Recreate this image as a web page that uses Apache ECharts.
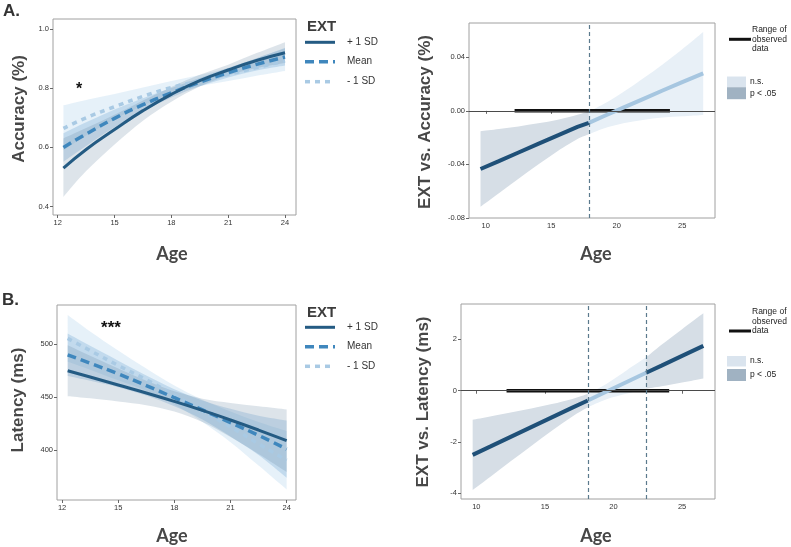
<!DOCTYPE html>
<html>
<head>
<meta charset="utf-8">
<script src="https://cdn.jsdelivr.net/npm/echarts@6/dist/echarts.min.js"></script>
<style>html,body{margin:0;padding:0;background:#fff}#c{width:791px;height:547px}</style>
</head>
<body>
<div id="c"></div>
<script>
// ---------- data ----------
const ageL = [12.3, 13.5, 15, 16.5, 18, 19.5, 21, 22.5, 24];
// Panel A (left): Accuracy by EXT level
const accPlus     = [0.530, 0.593, 0.660, 0.724, 0.779, 0.825, 0.861, 0.893, 0.919];
const accPlusLo   = [0.433, 0.520, 0.610, 0.690, 0.754, 0.805, 0.843, 0.868, 0.885];
const accPlusHi   = [0.630, 0.665, 0.710, 0.758, 0.804, 0.845, 0.879, 0.918, 0.955];
const accMean     = [0.600, 0.645, 0.698, 0.744, 0.784, 0.820, 0.852, 0.880, 0.905];
const accMeanLo   = [0.552, 0.605, 0.668, 0.722, 0.768, 0.806, 0.836, 0.859, 0.876];
const accMeanHi   = [0.648, 0.685, 0.728, 0.766, 0.800, 0.834, 0.868, 0.901, 0.934];
const accMinus    = [0.664, 0.700, 0.737, 0.772, 0.802, 0.825, 0.846, 0.869, 0.892];
const accMinusLo  = [0.590, 0.640, 0.695, 0.742, 0.780, 0.806, 0.824, 0.842, 0.858];
const accMinusHi  = [0.742, 0.760, 0.780, 0.802, 0.824, 0.844, 0.868, 0.900, 0.936];
// Panel B (left): Latency by EXT level
const latPlus     = [475, 469, 461.5, 454, 446, 437.5, 428.5, 419, 409];
const latPlusLo   = [451, 449, 446, 442.5, 436.5, 426.5, 412.5, 396.5, 379.5];
const latPlusHi   = [499, 489, 477, 465.5, 455.5, 448.5, 444.5, 441.5, 438.5];
const latMean     = [490, 482, 472, 461, 449.5, 438, 426, 414, 401];
const latMeanLo   = [470, 465.5, 459.5, 451.5, 441.5, 429, 413, 395.5, 374];
const latMeanHi   = [510, 498.5, 484.5, 470.5, 457.5, 447, 439, 432.5, 428];
const latMinus    = [505.5, 494, 480, 466.5, 452, 437, 422, 406, 390.5];
const latMinusLo  = [483.5, 476, 466, 456, 443, 426.5, 407.5, 385.5, 363];
const latMinusHi  = [527.5, 512, 494, 477, 461, 447.5, 436.5, 426.5, 418];
// Panel A (right): simple slope of EXT on accuracy by age
const ageSlopeA   = [9.6, 11, 12.5, 14, 15.5, 17, 17.87, 19, 20.5, 22, 23.5, 25, 26.6];
const slopeAcc    = [-0.0434, -0.0375, -0.0311, -0.0247, -0.0183, -0.0120, -0.0090, -0.0040, 0.0024, 0.0088, 0.0152, 0.0215, 0.0280];
const slopeAccLo  = [-0.0716, -0.0615, -0.0506, -0.0401, -0.0300, -0.0211, -0.0175, -0.0131, -0.0093, -0.0068, -0.0050, -0.0040, -0.0030];
const slopeAccHi  = [-0.0152, -0.0135, -0.0116, -0.0093, -0.0066, -0.0029, -0.0005, 0.0051, 0.0141, 0.0242, 0.0347, 0.0460, 0.0589];
const jnAcc       = [17.87];
// Panel B (right): simple slope of EXT on latency by age
const ageSlopeB   = [9.73, 11, 12.5, 14, 15.5, 17, 18.13, 19.5, 21, 22.38, 23.5, 25, 26.55];
const slopeLat    = [-2.50, -2.18, -1.80, -1.42, -1.04, -0.66, -0.38, -0.03, 0.35, 0.70, 0.98, 1.36, 1.75];
const slopeLatLo  = [-3.87, -3.36, -2.75, -2.15, -1.56, -1.00, -0.64, -0.33, -0.11, 0.08, 0.17, 0.32, 0.48];
const slopeLatHi  = [-1.13, -1.00, -0.85, -0.69, -0.52, -0.32, -0.13, 0.27, 0.81, 1.30, 1.79, 2.40, 3.02];
const jnLat       = [18.13, 22.38];
const observedRange = [12.2, 24.06];
// tick labels
const ticksAgeL = [12, 15, 18, 21, 24];
const ticksAgeR = [10, 15, 20, 25];
const ticksAcc = [0.4, 0.6, 0.8, 1.0];
const ticksSlopeAcc = [-0.08, -0.04, 0, 0.04];
const ticksLat = [400, 450, 500];
const ticksSlopeLat = [-4, -2, 0, 2];
const legendLabels = ['+ 1 SD', 'Mean', '- 1 SD'];

// ---------- styles ----------
const FONT = 'Liberation Sans';
const C_PLUS = '#245b83', C_MEAN = '#3f87bd', C_MINUS = '#a9cae4';
const B_PLUS = 'rgba(100,130,160,0.22)', B_MEAN = 'rgba(80,145,200,0.24)', B_MINUS = 'rgba(160,200,232,0.26)';
const SIG_BAND = '#d6dee6', NS_BAND = '#e8f0f7', SIG_LINE = '#1f5078', NS_LINE = '#a6c6e0';
const LINE_STYLES = [
  {color: C_PLUS, width: 3, type: 'solid'},
  {color: C_MEAN, width: 3.5, type: [9, 5]},
  {color: C_MINUS, width: 3.5, type: [5, 5]}
];

const zip = (xs, ys) => xs.map((x, i) => [x, ys[i]]);

// Catmull-Rom smoothed path through pixel points (appended to path string)
function curveTo(pts, smooth) {
  let d = '';
  for (let i = 0; i < pts.length - 1; i++) {
    const p0 = pts[Math.max(0, i - 1)], p1 = pts[i], p2 = pts[i + 1], p3 = pts[Math.min(pts.length - 1, i + 2)];
    if (!smooth) { d += ' L' + p2[0] + ' ' + p2[1]; continue; }
    const c1 = [p1[0] + (p2[0] - p0[0]) / 6, p1[1] + (p2[1] - p0[1]) / 6];
    const c2 = [p2[0] - (p3[0] - p1[0]) / 6, p2[1] - (p3[1] - p1[1]) / 6];
    d += ' C' + c1[0] + ' ' + c1[1] + ' ' + c2[0] + ' ' + c2[1] + ' ' + p2[0] + ' ' + p2[1];
  }
  return d;
}
function band(g, xs, lo, hi, color, smooth) {
  return {type: 'custom', xAxisIndex: g, yAxisIndex: g, silent: true, z: 1, clip: true,
    encode: {x: 0, y: [1, 2]},
    data: xs.map((x, i) => [x, lo[i], hi[i]]),
    renderItem: function (params, api) {
      if (params.dataIndex !== 0) return null;
      const up = xs.map((x, i) => api.coord([x, hi[i]]));
      const dn = xs.map((x, i) => api.coord([x, lo[i]])).reverse();
      let d = 'M' + up[0][0] + ' ' + up[0][1] + curveTo(up, smooth) +
        ' L' + dn[0][0] + ' ' + dn[0][1] + curveTo(dn, smooth) + ' Z';
      return {type: 'path', shape: {pathData: d}, style: {fill: color, stroke: null}};
    }};
}
function line(g, xs, ys, ls, smooth, z) {
  return {type: 'line', xAxisIndex: g, yAxisIndex: g, data: zip(xs, ys), symbol: 'none', smooth: smooth,
    silent: true, z: z || 4, lineStyle: ls};
}
function segments(xs, bounds) {
  const cuts = [xs[0]].concat(bounds, [xs[xs.length - 1]]);
  const segs = [];
  for (let k = 0; k < cuts.length - 1; k++) {
    const idx = [];
    xs.forEach((x, i) => { if (x >= cuts[k] - 1e-9 && x <= cuts[k + 1] + 1e-9) idx.push(i); });
    segs.push({idx: idx, sig: k % 2 === 0});
  }
  return segs;
}
function slopePanel(g, xs, y, lo, hi, bounds) {
  const out = [];
  const segs = segments(xs, bounds);
  segs.forEach(s => {
    const pick = a => s.idx.map(i => a[i]);
    out.push(band(g, pick(xs), pick(lo), pick(hi), s.sig ? SIG_BAND : NS_BAND, true));
  });
  out.push({type: 'line', xAxisIndex: g, yAxisIndex: g, data: observedRange.map(x => [x, 0]), symbol: 'none',
    silent: true, z: 3, lineStyle: {color: '#111', width: 3.5},
    markLine: {silent: true, symbol: ['none', 'none'], label: {show: false}, animation: false,
      data: [{yAxis: 0, lineStyle: {color: '#4a4a4a', width: 1, type: 'solid'}}]
        .concat(bounds.map(b => ({xAxis: b, lineStyle: {color: '#5b7a8d', width: 1.2, type: [4, 3]}})))}});
  segs.forEach(s => {
    const pick = a => s.idx.map(i => a[i]);
    out.push(line(g, pick(xs), pick(y), {color: s.sig ? SIG_LINE : NS_LINE, width: 4}, false, 4));
  });
  return out;
}

function xAx(g, min, max, ticks) {
  return {type: 'value', gridIndex: g, min: min, max: max, axisLine: {show: false}, splitLine: {show: false},
    axisTick: {show: true, customValues: ticks, length: 3, lineStyle: {color: '#666'}},
    axisLabel: {customValues: ticks, fontSize: 7.5, color: '#333', margin: 4, fontFamily: FONT}};
}
function yAx(g, min, max, ticks, dec) {
  return {type: 'value', gridIndex: g, min: min, max: max, axisLine: {show: false}, splitLine: {show: false},
    axisTick: {show: true, customValues: ticks, length: 3, lineStyle: {color: '#666'}},
    axisLabel: {customValues: ticks, fontSize: 7.5, color: '#333', margin: 4, fontFamily: FONT,
      formatter: v => Number(v).toFixed(dec)}};
}

const grids = [
  {left: 53, top: 19, width: 243, height: 196},
  {left: 469, top: 23, width: 246, height: 195},
  {left: 57, top: 305, width: 239, height: 195},
  {left: 461, top: 304, width: 254, height: 195}
].map(g => Object.assign(g, {show: true, borderColor: '#a0a0a0', borderWidth: 1, backgroundColor: 'transparent'}));

let series = [];
series = series.concat(
  [band(0, ageL, accMinusLo, accMinusHi, B_MINUS, true),
   band(0, ageL, accMeanLo, accMeanHi, B_MEAN, true),
   band(0, ageL, accPlusLo, accPlusHi, B_PLUS, true),
   line(0, ageL, accMinus, LINE_STYLES[2], true, 4),
   line(0, ageL, accMean, LINE_STYLES[1], true, 5),
   line(0, ageL, accPlus, LINE_STYLES[0], true, 6)]
);
series = series.concat(
  [band(2, ageL, latMinusLo, latMinusHi, B_MINUS, true),
   band(2, ageL, latMeanLo, latMeanHi, B_MEAN, true),
   band(2, ageL, latPlusLo, latPlusHi, B_PLUS, true),
   line(2, ageL, latMinus, LINE_STYLES[2], true, 4),
   line(2, ageL, latMean, LINE_STYLES[1], true, 5),
   line(2, ageL, latPlus, LINE_STYLES[0], true, 6)]
);
series = series.concat(slopePanel(1, ageSlopeA, slopeAcc, slopeAccLo, slopeAccHi, jnAcc));
series = series.concat(slopePanel(3, ageSlopeB, slopeLat, slopeLatLo, slopeLatHi, jnLat));

// ---------- graphic text / legends ----------
function txt(x, y, text, size, opts) {
  opts = opts || {};
  return {type: 'text', x: x, y: y, rotation: opts.rot || 0, z: 100, silent: true,
    style: {text: text, fill: opts.color || '#333', font: (opts.weight || 'normal') + ' ' + size + 'px "' + (opts.family || FONT) + '"',
      align: opts.align || 'left', verticalAlign: 'middle', textAlign: opts.align || 'left', textVerticalAlign: 'middle'}};
}
function hline(x1, x2, y, ls) {
  return {type: 'line', z: 100, silent: true, shape: {x1: x1, y1: y, x2: x2, y2: y},
    style: {stroke: ls.color, lineWidth: ls.width, lineDash: ls.type === 'solid' ? null : ls.type}};
}
function rect(x, y, w, h, fill) {
  return {type: 'rect', z: 100, silent: true, shape: {x: x, y: y, width: w, height: h}, style: {fill: fill}};
}
const graphics = [];
graphics.push(txt(3, 11, 'A.', 17, {weight: 'bold'}));
graphics.push(txt(2, 300, 'B.', 17, {weight: 'bold'}));
const PI2 = Math.PI / 2;
const titleOpts = {weight: 'bold', align: 'center', rot: PI2, color: '#474747'};
graphics.push(txt(19, 109, 'Accuracy (%)', 17, titleOpts));
graphics.push(txt(425, 122, 'EXT vs. Accuracy (%)', 17, titleOpts));
graphics.push(txt(18, 400, 'Latency (ms)', 17, titleOpts));
graphics.push(txt(423, 402, 'EXT vs. Latency (ms)', 17, titleOpts));
const ageOpts = {weight: 'bold', align: 'center', color: '#474747', family: 'Lato'};
[[172, 254], [596, 254], [172, 536], [596, 536]].forEach(p => graphics.push(txt(p[0], p[1], 'Age', 18, ageOpts)));
graphics.push(txt(79, 90, '*', 16, {weight: 'bold', align: 'center', color: '#111'}));
graphics.push(txt(111, 328, '***', 17, {weight: 'bold', align: 'center', color: '#111'}));
[[26.5, [42.3, 61.7, 81.7]], [312.7, [327.3, 346.7, 366.3]]].forEach(L => {
  graphics.push(txt(307, L[0], 'EXT', 15, {weight: 'bold', color: '#3c3c3c'}));
  L[1].forEach((y, i) => {
    graphics.push(hline(305, 335, y, LINE_STYLES[i]));
    graphics.push(txt(347, y, legendLabels[i], 10, {color: '#333'}));
  });
});
[[30, 39.3, 76.5, 87.2], [311.7, 331, 356, 369]].forEach(L => {
  const t = L[0];
  graphics.push(txt(752, t, 'Range of', 8.5, {color: '#222'}));
  graphics.push(txt(752, t + 9.5, 'observed', 8.5, {color: '#222'}));
  graphics.push(txt(752, t + 19, 'data', 8.5, {color: '#222'}));
  graphics.push(hline(729, 751, L[1], {color: '#111', width: 3, type: 'solid'}));
  graphics.push(rect(727, L[2], 19, 10.5, '#dae4ee'));
  graphics.push(rect(727, L[3], 19, 12, '#a0b2c2'));
  graphics.push(txt(750, L[2] + 5, 'n.s.', 8.5, {color: '#222'}));
  graphics.push(txt(750, L[3] + 6, 'p < .05', 8.5, {color: '#222'}));
});

const chart = echarts.init(document.getElementById('c'), null, {renderer: 'canvas'});
chart.setOption({
  animation: false,
  backgroundColor: '#fff',
  textStyle: {fontFamily: FONT},
  grid: grids,
  xAxis: [xAx(0, 11.75, 24.58, ticksAgeL), xAx(1, 8.72, 27.5, ticksAgeR), xAx(2, 11.73, 24.5, ticksAgeL), xAx(3, 8.88, 27.4, ticksAgeR)],
  yAxis: [yAx(0, 0.372, 1.033, ticksAcc, 1), yAx(1, -0.08, 0.0656, ticksSlopeAcc, 2), yAx(2, 353, 537, ticksLat, 0), yAx(3, -4.22, 3.38, ticksSlopeLat, 0)],
  series: series,
  graphic: {elements: graphics}
});
</script>
</body>
</html>
